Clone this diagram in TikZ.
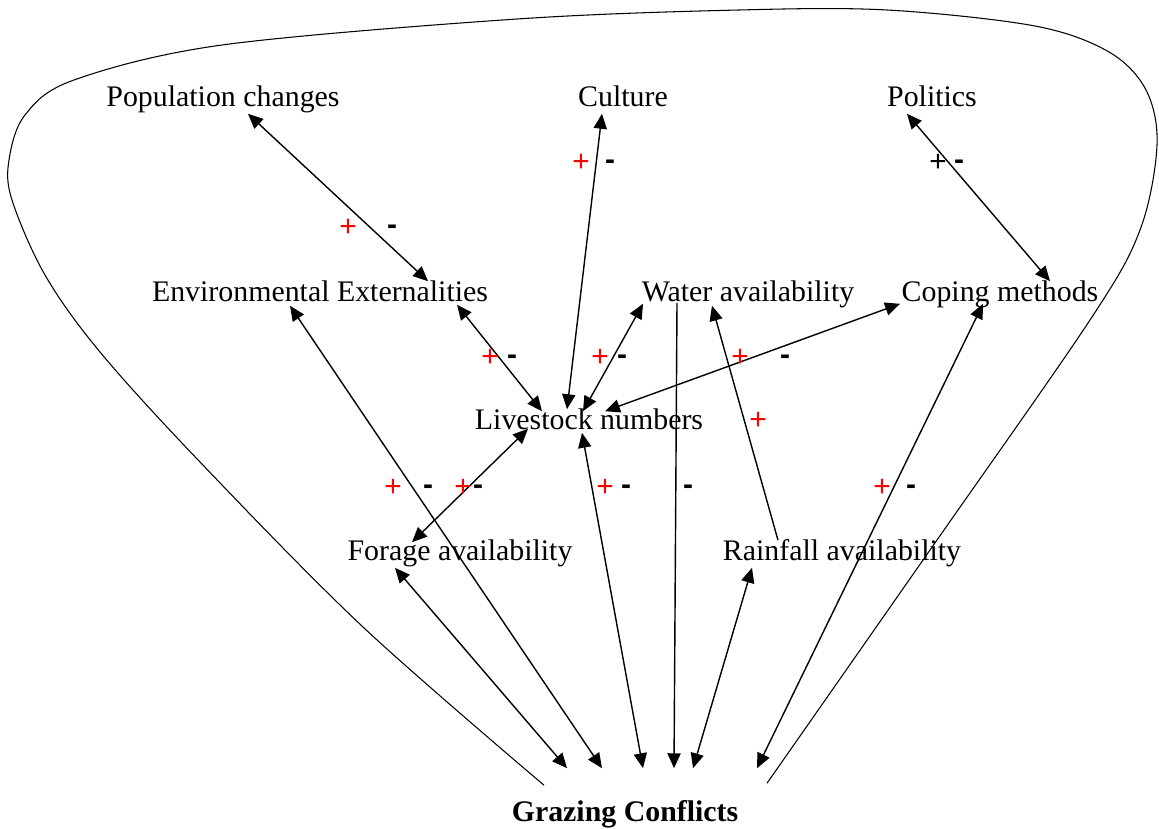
\documentclass[tikz,border=0pt]{standalone}
\usepackage{fontspec}
\setmainfont{Liberation Serif}
\newfontfamily\signfont{Liberation Sans}
\usetikzlibrary{arrows.meta,calc}
\tikzset{
	factor/.style={font=\fontsize{17}{20}\selectfont, inner sep=0pt,
		text height=11.6pt, text depth=3.7pt},
	outcome/.style={factor, font=\fontsize{17}{20}\selectfont\bfseries},
	link/.style={<->, line width=0.8pt},
	oneway/.style={->, line width=0.8pt},
	feedback/.style={line width=0.6pt},
	plussign/.style={text=red, font=\signfont\fontsize{17}{20}\selectfont, inner sep=0pt},
	blackplus/.style={plussign, text=black},
	minussign/.style={text=black, font=\signfont\fontsize{17}{20}\selectfont\bfseries, inner sep=0pt},
	>={Triangle[length=8.5pt,width=7.5pt]}
}

\begin{document}
\begin{tikzpicture}[x=0.02cm, y=-0.02cm]
	\useasboundingbox (0,0) rectangle (1159,828);
	
	% factors
	\node[factor] (pop) at (223,100) {Population changes};
	\node[factor] (culture) at (623,100) {Culture};
	\node[factor] (politics) at (932,100) {Politics};
	\node[factor] (env) at (320,295) {Environmental Externalities};
	\node[factor] (water) at (748,295) {Water availability};
	\node[factor] (coping) at (1000,295) {Coping methods};
	\node[factor] (live) at (589,423) {Livestock numbers};
	\node[factor] (forage) at (460,554) {Forage availability};
	\node[factor] (rain) at (842,554) {Rainfall availability};
	\node[outcome] (graz) at (625,815) {Grazing Conflicts};
	
	% links
	\draw[link] ($(pop.south)+(25,0)$) -- ($(env.north)+(108,0)$);
	\draw[link] ($(culture.south)+(-21,0)$) -- ($(live.north)+(-22,0)$);
	\draw[link] ($(politics.south)+(-25,0)$) -- ($(coping.north)+(50,0)$);
	\draw[link] ($(env.south)+(137,-4)$) -- ($(live.north)+(-47,2)$);
	\draw[link] ($(water.south)+(-105,-5)$) -- ($(live.north)+(-6,2)$);
	\draw[link] ($(coping.south)+(-100,-5)$) -- ($(live.north)+(16,2)$);
	\draw[link] ($(live.south)+(-61,-8)$) -- ($(forage.north)+(-48,2)$);
	\draw[link] ($(live.south)+(-7,-4)$) -- ($(graz.north)+(18,-33)$);
	\draw[oneway] ($(water.south)+(-71,-6)$) -- ($(graz.north)+(49,-33)$);
	\draw[oneway] ($(rain.north)+(-64,0)$) -- ($(water.south)+(-36,-3)$);
	\draw[link] ($(rain.south)+(-90,0)$) -- ($(graz.north)+(68,-33)$);
	\draw[link] ($(coping.south)+(-17,-5)$) -- ($(graz.north)+(132,-33)$);
	\draw[link] ($(forage.south)+(-65,0)$) -- ($(graz.north)+(-58,-33)$);
	\draw[link] ($(env.south)+(-30,-3)$) -- ($(graz.north)+(-23,-33)$);
	
	% feedback loop
	\coordinate (loopstart) at ($(graz.north)+(-81,-16)$);
	\coordinate (loopend) at ($(graz.north)+(142,-18)$);
	\draw[feedback] plot[smooth, tension=0.55] coordinates {(loopstart) (363,627)
		(200,462) (100,352) (45,275) (12,200) (9,160) (25,115) (74,80) (222,45)
		(517,19) (739,10) (887,10) (1035,26) (1109,52) (1146,90) (1157,145)
		(1140,230) (1090,320) (930,550) (loopend)};
	
	% signs
	\node[plussign] (p1) at (348,228) {+};
	\node[minussign] (n1) at (392,230) {-};
	\node[plussign] (p2) at (581,163) {+};
	\node[minussign] (n2) at (610,165) {-};
	\node[blackplus] (p3) at (938,163) {+};
	\node[minussign] (n3) at (959,165) {-};
	\node[plussign] (p4) at (490,358) {+};
	\node[minussign] (n4) at (512,360) {-};
	\node[plussign] (p5) at (600,358) {+};
	\node[minussign] (n5) at (622,360) {-};
	\node[plussign] (p6) at (740,358) {+};
	\node[minussign] (n6) at (785,360) {-};
	\node[plussign] (p7) at (758,421) {+};
	\node[plussign] (p8) at (393,488) {+};
	\node[minussign] (n8) at (428,490) {-};
	\node[plussign] (p9) at (463,488) {+};
	\node[minussign] (n9) at (478,490) {-};
	\node[plussign] (p10) at (605,488) {+};
	\node[minussign] (n10) at (626,490) {-};
	\node[minussign] (n11) at (688,490) {-};
	\node[plussign] (p12) at (882,488) {+};
	\node[minussign] (n12) at (911,490) {-};
\end{tikzpicture}
\end{document}
